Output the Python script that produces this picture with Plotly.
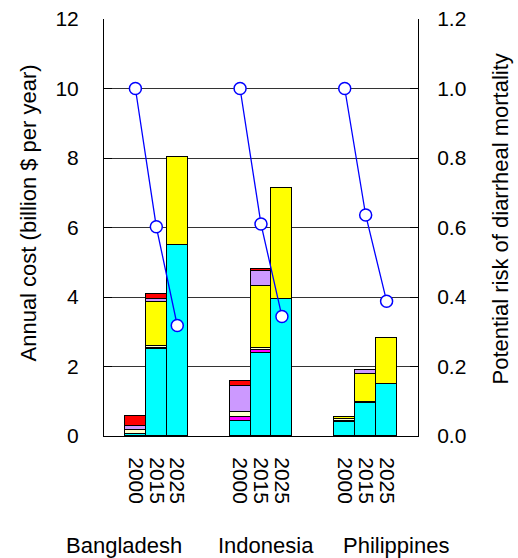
import plotly.graph_objects as go

countries = ["Bangladesh", "Indonesia", "Philippines"]
years = ["2000", "2015", "2025"]

# stacked cost components (billion $ per year), order: country x year
comp_cyan = [0.05, 2.50, 5.51, 0.42, 2.40, 3.95, 0.40, 0.95, 1.51]
comp_magenta = [0.02, 0.02, None, 0.14, 0.08, None, 0.04, 0.04, None]
comp_cream = [0.10, 0.06, None, 0.13, 0.06, None, 0.05, None, None]
comp_yellow = [None, 1.28, 2.52, None, 1.78, 3.20, 0.07, 0.78, 1.32]
comp_lavender = [0.12, 0.09, None, 0.74, 0.42, None, None, 0.14, None]
comp_red = [0.30, 0.14, None, 0.15, 0.08, None, None, None, None]

# potential risk of diarrheal mortality
risk = {
    "Bangladesh": [1.0, 0.602, 0.318],
    "Indonesia": [1.0, 0.61, 0.344],
    "Philippines": [1.0, 0.636, 0.388],
}

components = [
    ("Component 1", comp_cyan, "#00FFFF"),
    ("Component 2", comp_magenta, "#FF00FF"),
    ("Component 3", comp_cream, "#FFFFCC"),
    ("Component 4", comp_yellow, "#FFFF00"),
    ("Component 5", comp_lavender, "#CC99FF"),
    ("Component 6", comp_red, "#FF0000"),
]

SLOTS = 5
xpos = []
for gi, c in enumerate(countries):
    for yi, yr in enumerate(years):
        xpos.append(gi * SLOTS + 1.5 + yi)
ticktext = [yr for c in countries for yr in years]

FONT = "Liberation Sans, Arial, sans-serif"
fig = go.Figure()
for name, vals, col in components:
    fig.add_trace(go.Bar(
        x=xpos, y=vals, name=name, width=1.0,
        marker=dict(color=col, line=dict(color="black", width=1)),
        showlegend=False,
    ))

lx, ly = [], []
for gi, c in enumerate(countries):
    for yi in range(len(years)):
        lx.append(gi * SLOTS + 1.5 + yi)
        ly.append(risk[c][yi])
    lx.append(None)
    ly.append(None)
fig.add_trace(go.Scatter(
    x=lx, y=ly, yaxis="y2", mode="lines+markers", connectgaps=False,
    line=dict(color="#0000FF", width=1.3),
    marker=dict(symbol="circle", size=12, color="white",
                line=dict(color="#0000FF", width=1.5)),
    showlegend=False,
))

fig.update_layout(
    width=518, height=558,
    margin=dict(l=104, r=100, t=19, b=122, autoexpand=False),
    paper_bgcolor="white", plot_bgcolor="white",
    barmode="stack", bargap=0,
    font=dict(family=FONT, size=21, color="black"),
    xaxis=dict(range=[0, 15], tickvals=xpos, ticktext=ticktext,
               tickangle=90, ticks="", showgrid=False, zeroline=False,
               showline=True, linecolor="black", linewidth=1,
               tickfont=dict(size=21), ticklabelstandoff=16,
               automargin=False),
    xaxis2=dict(range=[0, 15], overlaying="x", anchor="y",
                tickvals=[5, 10], ticks="inside", ticklen=8,
                tickcolor="black", showticklabels=False,
                showgrid=False, zeroline=False, showline=False,
                automargin=False),
    yaxis=dict(range=[0, 12], dtick=2, ticks="inside", ticklen=8,
               tickcolor="black", showgrid=True, gridcolor="#333333",
               gridwidth=1, zeroline=False, showline=True,
               linecolor="black", linewidth=1, ticklabelstandoff=20,
               automargin=False),
    yaxis2=dict(range=[0, 1.2], dtick=0.2, tickformat=".1f",
                overlaying="y", side="right", ticks="inside", ticklen=8,
                tickcolor="black", showgrid=False, zeroline=False,
                showline=True, linecolor="black", linewidth=1,
                ticklabelstandoff=14, automargin=False),
)

fig.add_annotation(text="Annual cost (billion $ per year)", textangle=-90,
                   xref="paper", yref="paper", x=0, y=0.5, xanchor="center",
                   yanchor="middle", xshift=-76, yshift=14, showarrow=False,
                   font=dict(size=22))
fig.add_annotation(text="Potential risk of diarrheal mortality", textangle=-90,
                   xref="paper", yref="paper", x=1, y=0.5, xanchor="center",
                   yanchor="middle", xshift=82, yshift=8, showarrow=False,
                   font=dict(size=22))

country_x = [0.064, 0.516, 0.930]
for c, px in zip(countries, country_x):
    fig.add_annotation(text=c, xref="paper", yref="paper", x=px, y=0,
                       xanchor="center", yanchor="middle", yshift=-109,
                       showarrow=False, font=dict(size=22))

fig.write_html("out.html", config={"displayModeBar": False},
               post_script="document.body.style.margin='0';"
                           "document.body.style.padding='0';")
